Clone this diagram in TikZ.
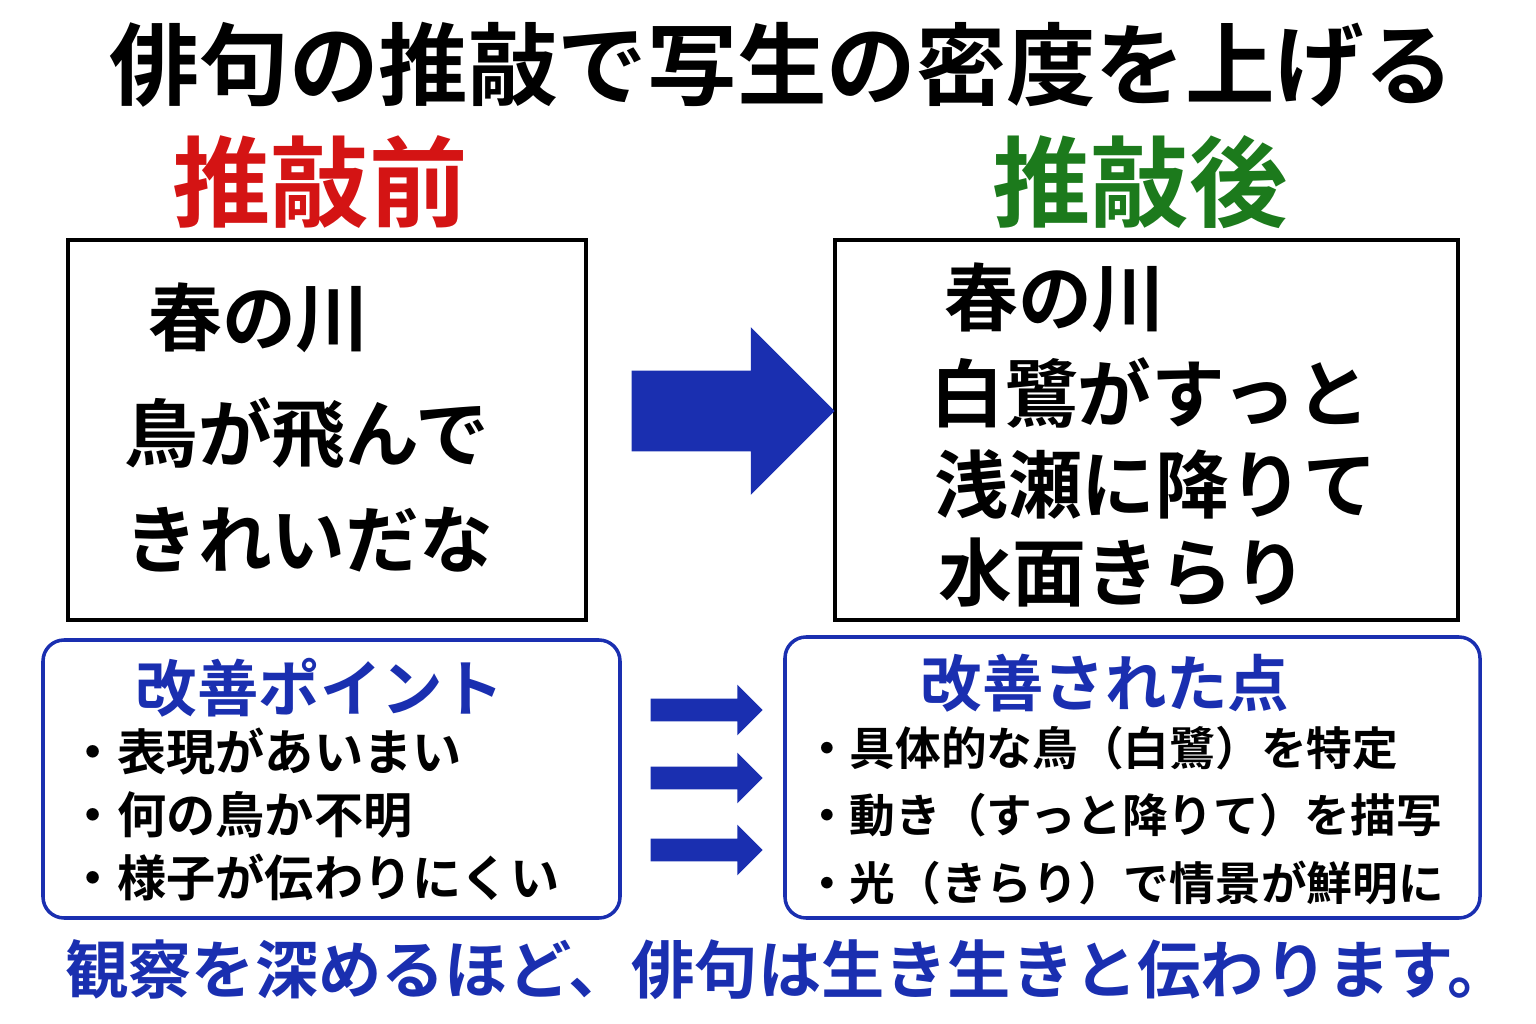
\documentclass[tikz,border=0pt]{standalone}
\usepackage{fontspec}
\setmainfont{Noto Sans CJK JP}[BoldFont={* Bold}]
\usetikzlibrary{shapes.arrows,positioning}
\definecolor{navy}{HTML}{1A2FB0}
\definecolor{redtitle}{HTML}{D41414}
\definecolor{greentitle}{HTML}{1C7A1C}
\tikzset{
  haiku/.style={anchor=west,font=\bfseries\fontsize{42}{44}\selectfont},
  bullet/.style={anchor=west,font=\bfseries\fontsize{28}{30}\selectfont},
  pointhead/.style={text=navy,font=\bfseries\fontsize{35}{37}\selectfont},
  frame/.style={draw=black,line width=2.5pt},
  bluebox/.style={draw=navy,line width=2pt,rounded corners=12pt},
  bigarrow/.style={single arrow,fill=navy,inner sep=0pt,text height=1.6cm,text depth=0pt,
    minimum height=4.06cm,single arrow head extend=0.87cm,single arrow tip angle=90},
  smallarrow/.style={single arrow,fill=navy,inner sep=0pt,text height=0.44cm,text depth=0pt,
    minimum height=2.24cm,single arrow head extend=0.28cm,single arrow tip angle=90}
}
\begin{document}
\begin{tikzpicture}[x=0.02cm,y=-0.02cm]
\useasboundingbox (0,0) rectangle (1536,1024);
% Titles
\node (title) at (782,65) {\bfseries\fontsize{51}{54}\selectfont 俳句の推敲で写生の密度を上げる};
\node (before) at (320,182) [text=redtitle] {\bfseries\fontsize{56}{58}\selectfont 推敲前};
\node (after) at (1140,182) [text=greentitle] {\bfseries\fontsize{56}{58}\selectfont 推敲後};
% Haiku boxes
\draw [frame] (68,240) rectangle (586,620);
\draw [frame] (835,240) rectangle (1458,620);
\node (b1) [haiku] at (142,318) {春の川};
\node (b2) [haiku] at (118,433) {鳥が飛んで};
\node (b3) [haiku] at (118,540) {きれいだな};
\node (a1) [haiku] at (938,298) {春の川};
\node (a2) [haiku] at (924,393) {白鷺がすっと};
\node (a3) [haiku] at (928,484) {浅瀬に降りて};
\node (a4) [haiku] at (932,572) {水面きらり};
\node (mainarrow) [bigarrow] at (713,411) {};
% Point boxes
\draw [bluebox] (43,640) rectangle (620,918);
\draw [bluebox] (785,637) rectangle (1480,918);
\node (lefthead) [pointhead] at (320,688) {改善ポイント};
\node (righthead) [pointhead] at (1105,683) {改善された点};
\node (p1) [bullet] at (62,752) {・表現があいまい};
\node (p2) [bullet] at (62,815) {・何の鳥か不明};
\node (p3) [bullet] at (62,877) {・様子が伝わりにくい};
\node (q1) [bullet,font=\bfseries\fontsize{26}{28}\selectfont] at (798,748) {・具体的な鳥（白鷺）を特定};
\node (q2) [bullet,font=\bfseries\fontsize{26}{28}\selectfont] at (798,815) {・動き（すっと降りて）を描写};
\node (q3) [bullet,font=\bfseries\fontsize{26}{28}\selectfont] at (798,883) {・光（きらり）で情景が鮮明に};
\foreach \y/\n in {710/1,778/2,850/3}
  \node (s\n) [smallarrow] at (701,\y) {};
% Conclusion
\node (summary) at (788,970) [pointhead,font=\bfseries\fontsize{36}{38}\selectfont] {観察を深めるほど、俳句は生き生きと伝わります。};
\end{tikzpicture}
\end{document}
